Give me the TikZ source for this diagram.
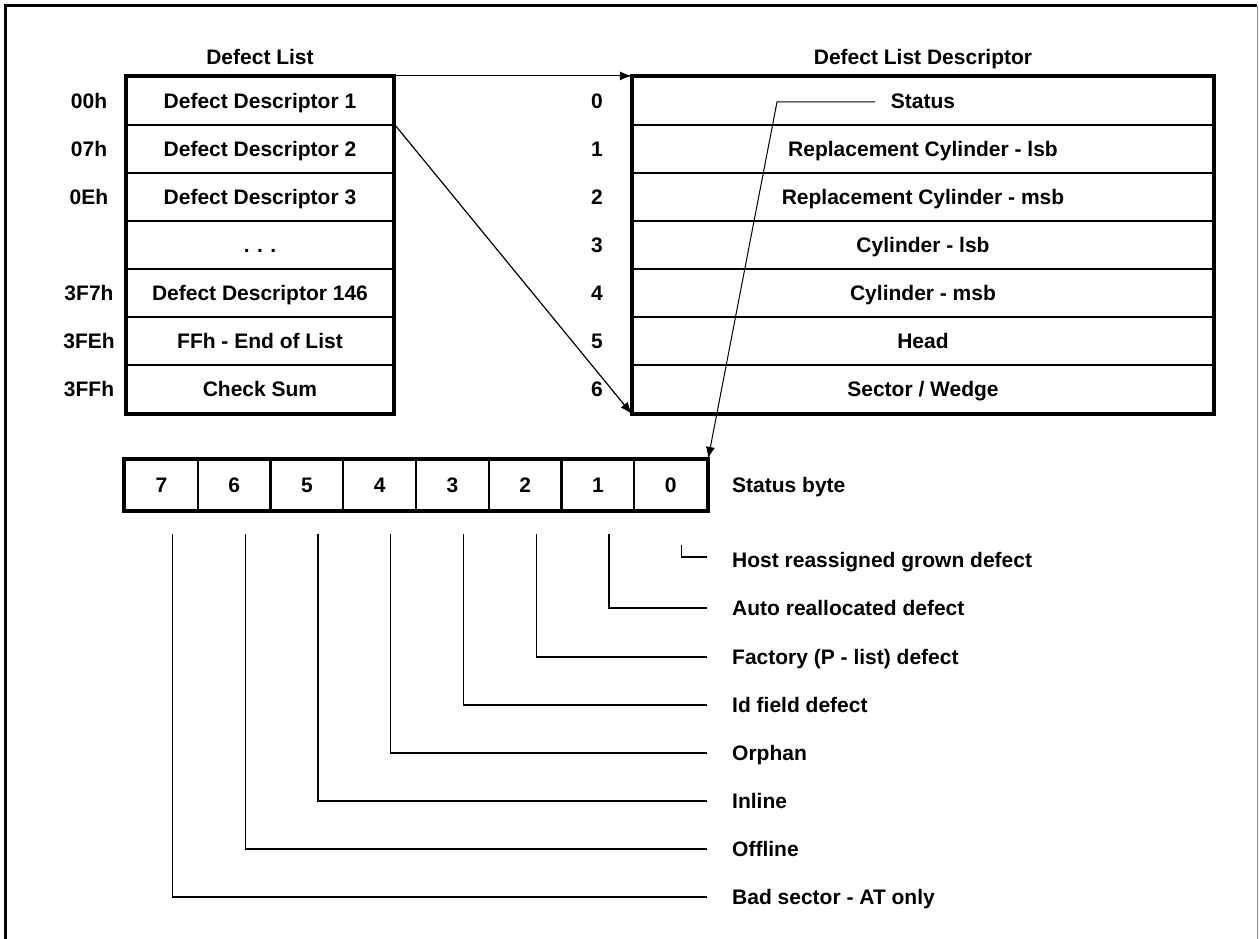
\documentclass[tikz,border=0pt]{standalone}
\usepackage{fontspec}
\setmainfont{Liberation Sans}
\usetikzlibrary{arrows.meta}
\newcommand\dlfont{\fontsize{21}{25}\selectfont\bfseries}
\begin{document}
\begin{tikzpicture}[x=1pt,y=-1pt,
  txt/.style={inner sep=0pt,font=\dlfont,text height=15pt,text depth=0pt},
  lcell/.style={draw,line width=2.2pt,minimum width=266pt,minimum height=48pt,inner sep=0pt,font=\dlfont,text height=15pt,text depth=0pt},
  rcell/.style={draw,line width=2.2pt,minimum width=580pt,minimum height=48pt,inner sep=0pt,font=\dlfont,text height=15pt,text depth=0pt},
  bcell/.style={draw,line width=2.2pt,minimum width=72.75pt,minimum height=50pt,inner sep=0pt,font=\dlfont,text height=15pt,text depth=0pt},
  outer/.style={line width=3.2pt},
  conn/.style={line width=1.2pt,-{Latex[length=12pt,width=9pt]}},
  bitline/.style={line width=1.3pt}
]
\useasboundingbox[fill=white] (0,0) rectangle (1259,939);
% frame
\draw[line width=3pt] (5,939) -- (5,6) -- (1257,6);
\draw[line width=0.7pt,black!45] (1257,6) -- (1257,939);

% titles
\node[txt] (tl) at (260,57) {Defect List};
\node[txt] (tr) at (923,57) {Defect List Descriptor};

% left table
\node[lcell] (L0) at (260,101) {Defect Descriptor 1};
\node[lcell] (L1) at (260,149) {Defect Descriptor 2};
\node[lcell] (L2) at (260,197) {Defect Descriptor 3};
\node[lcell] (L3) at (260,245) {.\hspace{0.35em}.\hspace{0.35em}.};
\node[lcell] (L4) at (260,293) {Defect Descriptor 146};
\node[lcell] (L5) at (260,341) {FFh - End of List};
\node[lcell] (L6) at (260,389) {Check Sum};
\draw[outer] (L0.north west) rectangle (L6.south east);

% left offsets
\node[txt] (a0) at (89,101) {00h};
\node[txt] (a1) at (89,149) {07h};
\node[txt] (a2) at (89,197) {0Eh};
\node[txt] (a4) at (89,293) {3F7h};
\node[txt] (a5) at (89,341) {3FEh};
\node[txt] (a6) at (89,389) {3FFh};

% right table
\node[rcell] (R0) at (923,101) {Status};
\node[rcell] (R1) at (923,149) {Replacement Cylinder - lsb};
\node[rcell] (R2) at (923,197) {Replacement Cylinder - msb};
\node[rcell] (R3) at (923,245) {Cylinder - lsb};
\node[rcell] (R4) at (923,293) {Cylinder - msb};
\node[rcell] (R5) at (923,341) {Head};
\node[rcell] (R6) at (923,389) {Sector / Wedge};
\draw[outer] (R0.north west) rectangle (R6.south east);

% byte numbers
\foreach \i in {0,...,6} {
  \node[txt] (n\i) at (597,{101+48*\i}) {\i};
}

% status byte
\foreach \b [count=\k from 0] in {7,6,5,4,3,2,1,0} {
  \node[bcell] (B\b) at ({161.4+72.75*\k},485) {\b};
}
\draw[outer] (B7.north west) rectangle (B0.south east);
\node[txt,anchor=west] (sbyte) at (732,485) {Status byte};

% connectors between tables
\draw[conn] (L0.north east) -- (R0.north west);
\draw[conn] (L1.north east) -- (R6.south west);
\coordinate (sa) at (875,102);
\coordinate (sb) at (777,102);
\draw[conn,line width=1pt] (sa) -- (sb) -- (B0.north east);

% bit descriptions
\node[txt,anchor=west] (t0) at (732,560) {Host reassigned grown defect};
\node[txt,anchor=west] (t1) at (732,608) {Auto reallocated defect};
\node[txt,anchor=west] (t2) at (732,657) {Factory (P - list) defect};
\node[txt,anchor=west] (t3) at (732,705) {Id field defect};
\node[txt,anchor=west] (t4) at (732,753) {Orphan};
\node[txt,anchor=west] (t5) at (732,801) {Inline};
\node[txt,anchor=west] (t6) at (732,849) {Offline};
\node[txt,anchor=west] (t7) at (732,897) {Bad sector - AT only};

\draw[bitline] ([xshift=11pt,yshift=-34pt]B0.south) |- ([xshift=-25pt,yshift=3pt]t0.west);
\foreach \b in {1,...,7} {
  \draw[bitline] ([xshift=11pt,yshift=-23pt]B\b.south) |- ([xshift=-25pt]t\b.west);
}
\end{tikzpicture}
\end{document}
